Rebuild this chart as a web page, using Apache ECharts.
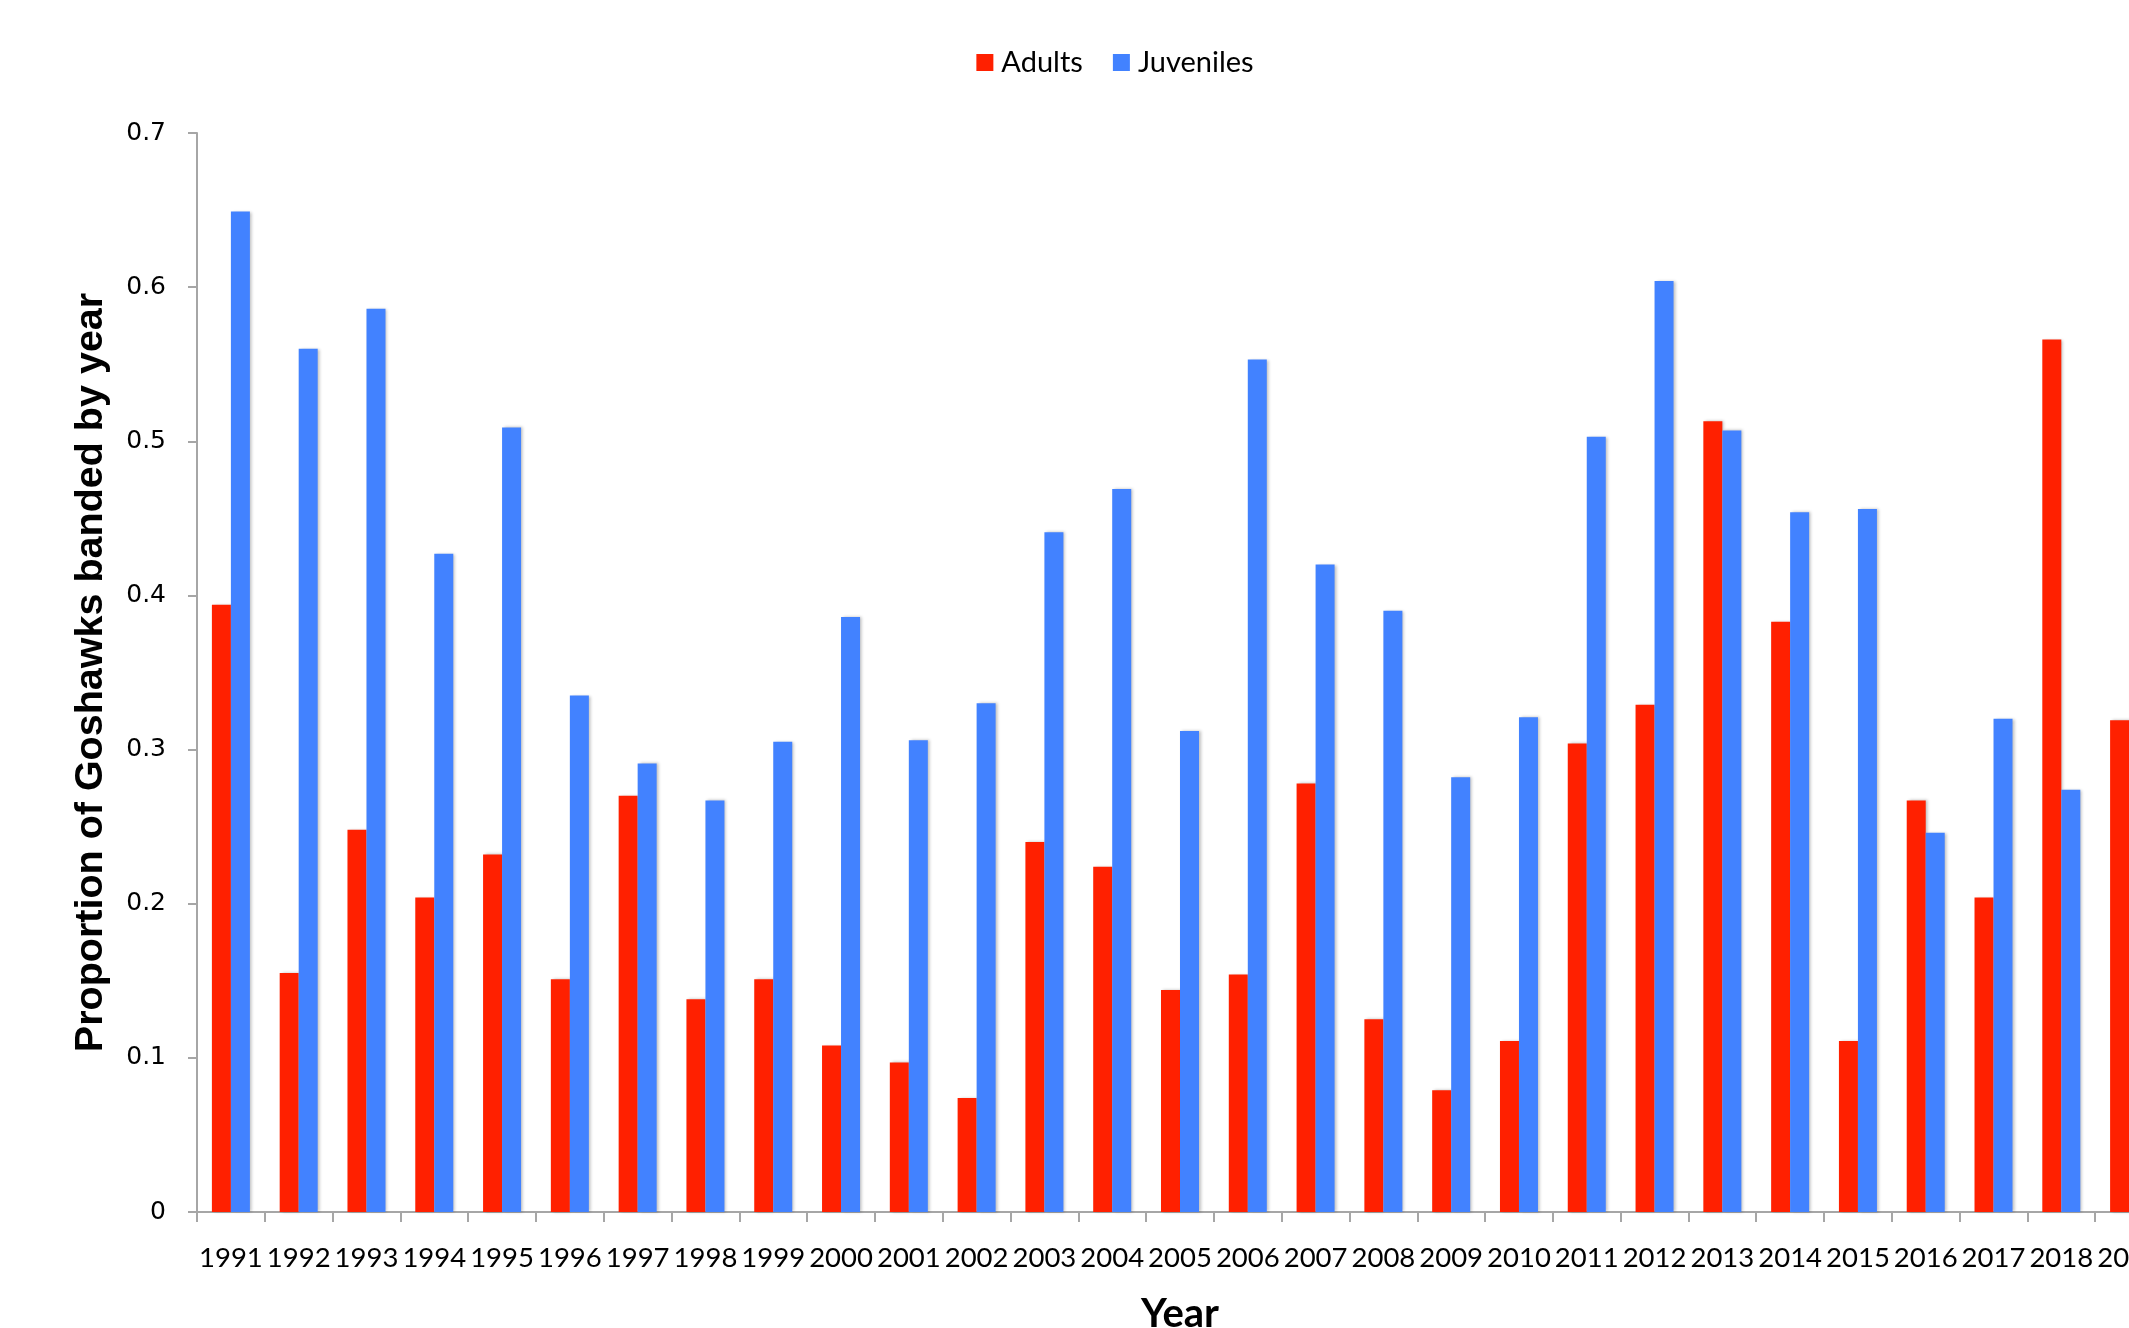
<!DOCTYPE html>
<html>
<head>
<meta charset="utf-8">
<script src="https://cdn.jsdelivr.net/npm/echarts@6/dist/echarts.min.js"></script>
<style>
html,body{margin:0;padding:0;background:#fff;overflow:hidden;}
#chart{width:2230px;height:1328px;}
</style>
</head>
<body>
<div id="chart"></div>
<script>
const years = ['1991','1992','1993','1994','1995','1996','1997','1998','1999','2000','2001','2002','2003','2004','2005','2006','2007','2008','2009','2010','2011','2012','2013','2014','2015','2016','2017','2018','2019'];
const adults = [0.394,0.155,0.248,0.204,0.232,0.151,0.270,0.138,0.151,0.108,0.097,0.074,0.240,0.224,0.144,0.154,0.278,0.125,0.079,0.111,0.304,0.329,0.513,0.383,0.111,0.267,0.204,0.566,0.319];
const juveniles = [0.649,0.560,0.586,0.427,0.509,0.335,0.291,0.267,0.305,0.386,0.306,0.330,0.441,0.469,0.312,0.553,0.420,0.390,0.282,0.321,0.503,0.604,0.507,0.454,0.456,0.246,0.320,0.274,0.590];
const yTicks = [0, 0.1, 0.2, 0.3, 0.4, 0.5, 0.6, 0.7];

const chart = echarts.init(document.getElementById('chart'));
const shadow = {shadowBlur: 3, shadowColor: 'rgba(0,0,0,0.25)', shadowOffsetX: 2};
chart.setOption({
  animation: false,
  backgroundColor: '#ffffff',
  legend: {
    top: 43,
    left: 'center',
    itemWidth: 17,
    itemHeight: 17,
    itemGap: 30,
    icon: 'rect',
    textStyle: {fontFamily: 'Lato', fontSize: 29, color: '#000', padding: [0, 0, 0, 3]},
    data: ['Adults', 'Juveniles']
  },
  grid: {left: 197, top: 133, width: 1966, height: 1079, containLabel: false, outerBoundsMode: 'none'},
  xAxis: {
    type: 'category',
    data: years,
    name: 'Year',
    nameLocation: 'middle',
    nameGap: 82,
    nameTextStyle: {fontFamily: 'Lato', fontWeight: 'bold', fontSize: 40, color: '#000'},
    axisLine: {lineStyle: {color: '#a6a6a6', width: 2}},
    axisTick: {show: true, length: 10, lineStyle: {color: '#a6a6a6', width: 2}},
    axisLabel: {interval: 0, margin: 32, fontFamily: 'Lato', fontSize: 27.5, color: '#000'}
  },
  yAxis: {
    type: 'value',
    min: 0, max: 0.7, interval: 0.1,
    name: 'Proportion of Goshawks banded by year',
    nameLocation: 'middle',
    nameGap: 86,
    nameTextStyle: {fontFamily: 'Liberation Sans', fontWeight: 'bold', fontSize: 39.5, color: '#000'},
    axisLine: {show: true, lineStyle: {color: '#a6a6a6', width: 2}},
    axisTick: {show: true, length: 9, lineStyle: {color: '#a6a6a6', width: 2}},
    splitLine: {show: false},
    axisLabel: {margin: 31, fontFamily: 'DejaVu Sans', fontSize: 25, color: '#000',
      formatter: v => { const t = yTicks.find(x => Math.abs(x - v) < 1e-9); return t === 0 ? '0' : String(+t.toFixed(1)); }}
  },
  series: [
    {name: 'Adults', type: 'bar', data: adults, barWidth: 19, barGap: '0%',
     itemStyle: Object.assign({color: '#ff2000'}, shadow)},
    {name: 'Juveniles', type: 'bar', data: juveniles, barWidth: 19, barGap: '0%',
     itemStyle: Object.assign({color: '#4282ff'}, shadow)}
  ]
});
</script>
</body>
</html>
